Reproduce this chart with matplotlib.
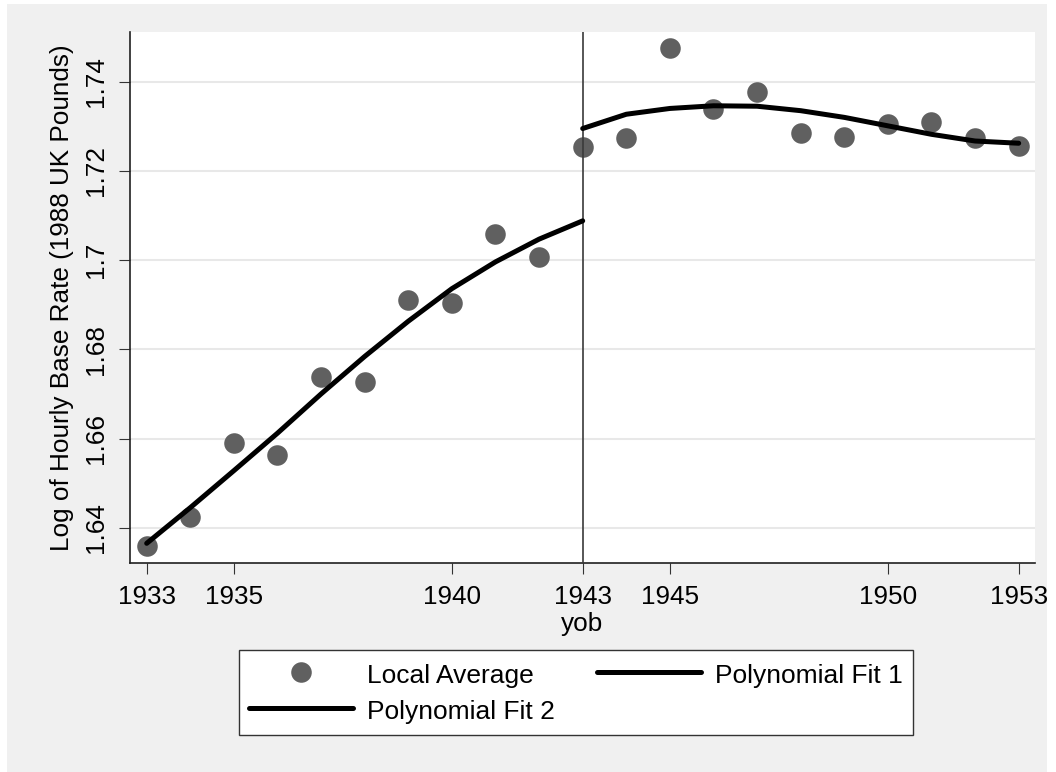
import matplotlib
matplotlib.use("Agg")
import matplotlib.pyplot as plt
from matplotlib.patches import Rectangle

plt.rcParams['font.family'] = ['Liberation Sans', 'DejaVu Sans']

# ---- data ----
yob = [1933, 1934, 1935, 1936, 1937, 1938, 1939, 1940, 1941, 1942, 1943,
       1944, 1945, 1946, 1947, 1948, 1949, 1950, 1951, 1952, 1953]
local_avg = [1.6360, 1.6423, 1.6590, 1.6563, 1.6738, 1.6727, 1.6910, 1.6903,
             1.7058, 1.7008, 1.7253, 1.7274, 1.7476, 1.7338, 1.7378, 1.7286,
             1.7277, 1.7305, 1.7309, 1.7273, 1.7256]

fit1_x = [1933, 1934, 1935, 1936, 1937, 1938, 1939, 1940, 1941, 1942, 1943]
fit1_y = [1.6365, 1.6445, 1.6528, 1.6612, 1.6700, 1.6784, 1.6863, 1.6936,
          1.6996, 1.7047, 1.7088]

fit2_x = [1943, 1944, 1945, 1946, 1947, 1948, 1949, 1950, 1951, 1952, 1953]
fit2_y = [1.7295, 1.7327, 1.7340, 1.7346, 1.7345, 1.7335, 1.7320, 1.7301,
          1.7282, 1.7267, 1.7262]

cutoff = 1943
xticks = [1933, 1935, 1940, 1943, 1945, 1950, 1953]
yticks = [1.64, 1.66, 1.68, 1.70, 1.72, 1.74]
ytick_labels = ["1.64", "1.66", "1.68", "1.7", "1.72", "1.74"]

W, H = 1056, 772
fig = plt.figure(figsize=(W / 100, H / 100), dpi=100, facecolor='white')
fig.patches.append(Rectangle((7 / W, 0), (1047 - 7) / W, (H - 4) / H,
                             transform=fig.transFigure, facecolor='#F0F0F0',
                             edgecolor='none', zorder=-10))

ax = fig.add_axes([130 / W, 1 - 563 / H, (1035 - 130) / W, (563 - 32) / H])
ax.set_facecolor('white')

ax.set_xlim(1932.617, 1953.374)
ax.set_ylim(1.63209, 1.75114)

for yv in yticks:
    ax.axhline(yv, color='#E8E8E8', lw=1.5, zorder=1)

pts, = ax.plot(yob, local_avg, linestyle='none', marker='o', markersize=14.8,
               markerfacecolor='#606060', markeredgewidth=0, color='#606060',
               zorder=3, label='Local Average')
ax.axvline(cutoff, color='#3a3a3a', lw=1.2, zorder=4)
l1, = ax.plot(fit1_x, fit1_y, color='black', lw=3.6, solid_capstyle='round',
              solid_joinstyle='round', zorder=5, label='Polynomial Fit 1')
l2, = ax.plot(fit2_x, fit2_y, color='black', lw=3.6, solid_capstyle='round',
              solid_joinstyle='round', zorder=5, label='Polynomial Fit 2')

for s in ['top', 'right']:
    ax.spines[s].set_visible(False)
for s in ['left', 'bottom']:
    ax.spines[s].set_color('#202020')
    ax.spines[s].set_linewidth(1.2)

ax.set_xticks(xticks)
ax.set_xticklabels([str(x) for x in xticks])
ax.set_yticks(yticks)
ax.set_yticklabels(ytick_labels, rotation=90, va='center')
ax.tick_params(axis='both', direction='out', length=8, width=0.8,
               color='#333333', labelsize=18.8, pad=8, labelcolor='black')

ax.set_xlabel('yob', fontsize=18.8, labelpad=2)
ax.set_ylabel('Log of Hourly Base Rate (1988 UK Pounds)', fontsize=18.8,
              labelpad=7)

leg = fig.legend([pts, l2, l1],
                 ['Local Average', 'Polynomial Fit 2', 'Polynomial Fit 1'],
                 ncol=2, loc='upper left',
                 bbox_to_anchor=(239 / W, 1 - 650 / H),
                 bbox_transform=fig.transFigure,
                 fontsize=19, frameon=True, fancybox=False, shadow=False,
                 borderaxespad=0, borderpad=0.38, handlelength=3.94,
                 handleheight=1.29,
                 handletextpad=0.53, columnspacing=1.59, labelspacing=0.28,
                 numpoints=1)
leg.get_frame().set_edgecolor('#333333')
leg.get_frame().set_linewidth(1.0)
leg.get_frame().set_facecolor('white')
leg.get_frame().set_alpha(1)

fig.savefig('out.png', dpi=100, facecolor=fig.get_facecolor())
